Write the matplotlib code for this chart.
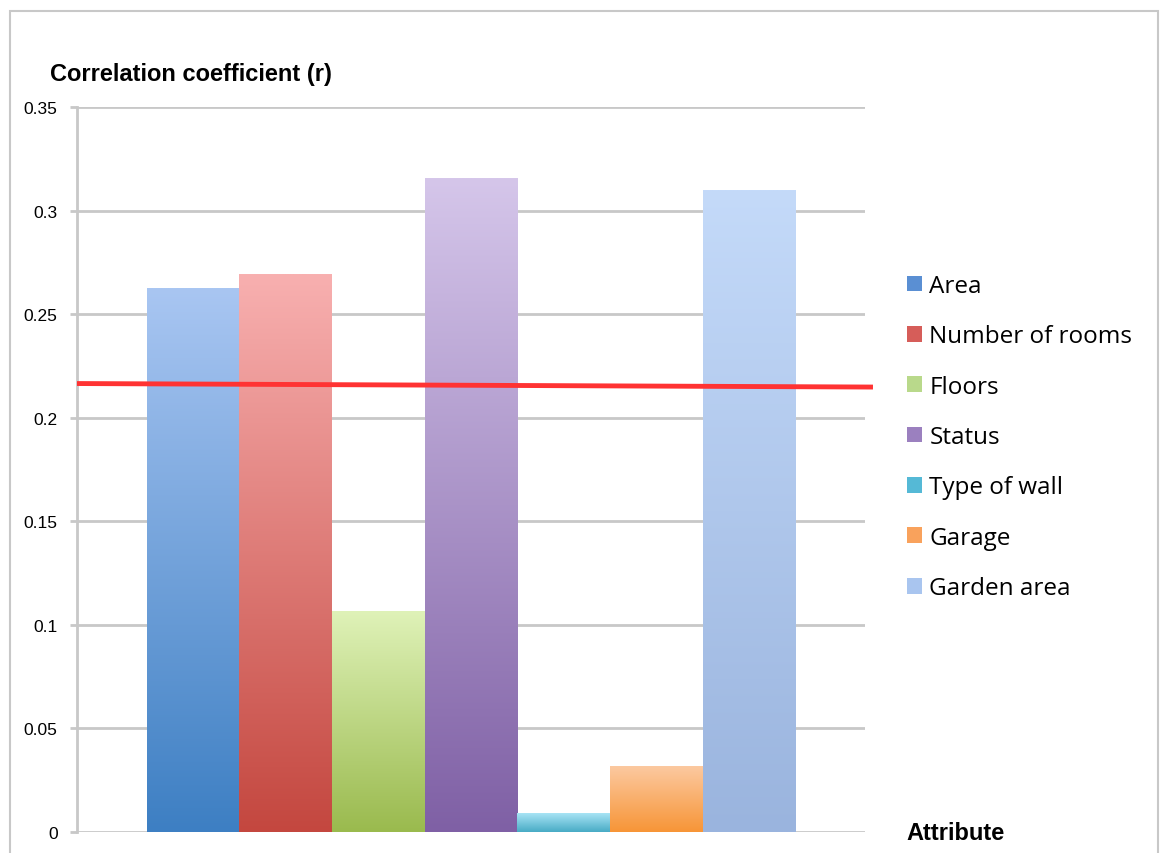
import numpy as np
import matplotlib
matplotlib.use("Agg")
import matplotlib.pyplot as plt
from matplotlib.colors import LinearSegmentedColormap
from matplotlib.patches import Rectangle, Patch

# ---- data ----
attributes = ["Area", "Number of rooms", "Floors", "Status", "Type of wall", "Garage", "Garden area"]
correlation = [0.2625, 0.2692, 0.1064, 0.3155, 0.0087, 0.0317, 0.3096]
threshold_line = [0.2165, 0.2148]   # red reference line (left end, right end)
y_ticks = [0, 0.05, 0.1, 0.15, 0.2, 0.25, 0.3, 0.35]
y_tick_labels = ["0", "0.05", "0.1", "0.15", "0.2", "0.25", "0.3", "0.35"]

# ---- styles ----
top_colors = ["#a9c6f2", "#f8b0b0", "#dff2b8", "#d5c6ea", "#a8e4f5", "#fcc9a0", "#c4daf9"]
bottom_colors = ["#3d7fc3", "#c4473f", "#9aba4e", "#7f60a5", "#48abc5", "#f79537", "#9ab4de"]
legend_colors = ["#5a8fd3", "#d65d59", "#b9d98b", "#9b80bf", "#55b9d6", "#f9a25c", "#a9c5ef"]

W, H = 1160, 854
fig = plt.figure(figsize=(W / 100, H / 100), dpi=100)
fig.patch.set_facecolor("white")

ax = fig.add_axes([77 / W, 1 - 833 / H, (865 - 77) / W, (833 - 108) / H])
ax.set_facecolor("white")

x = np.arange(len(attributes)) + 0.5
bars = ax.bar(x, correlation, width=1.0, color=legend_colors, zorder=2, linewidth=0)

# gradient fill for each bar
for rect, c_top, c_bot in zip(bars, top_colors, bottom_colors):
    rect.set_facecolor("none")
    x0 = rect.get_x()
    h = rect.get_height()
    cmap = LinearSegmentedColormap.from_list("g", [c_bot, c_top])
    grad = np.linspace(0, 1, 256).reshape(-1, 1)
    ax.imshow(grad, cmap=cmap, origin="lower", aspect="auto",
              extent=[x0, x0 + rect.get_width(), 0, h], zorder=2)

ax.set_xlim(-0.75, len(attributes) + 0.75)
ax.set_ylim(0, 0.35)

# red line (extends a little beyond the plot area)
ax.plot([-0.75, len(attributes) + 0.836], threshold_line, color="#ff3333",
        linewidth=3.5, solid_capstyle="butt", zorder=3, clip_on=False)

ax.set_yticks(y_ticks)
ax.set_yticklabels(y_tick_labels, fontfamily="Liberation Sans", fontsize=12.5)
ax.set_xticks([])
ax.tick_params(axis="y", length=5, width=2, color="#c8c8c8", pad=9)
ax.yaxis.grid(True, color="#c8c8c8", linewidth=2, zorder=0)
ax.set_axisbelow(True)
for s in ["top", "right", "bottom"]:
    ax.spines[s].set_visible(False)
ax.spines["left"].set_color("#c8c8c8")
ax.spines["left"].set_linewidth(2)

# titles
fig.text(50 / W, 1 - 74 / H, "Correlation coefficient (r)", fontfamily="Liberation Sans",
         fontweight="bold", fontsize=17, ha="left", va="center")
fig.text(906 / W, 1 - 834 / H, "Attribute", fontfamily="Liberation Sans",
         fontweight="bold", fontsize=17, ha="left", va="center")

# legend
handles = [Patch(facecolor=c, edgecolor="none") for c in legend_colors]
leg = fig.legend(handles, attributes, loc="upper left",
                 bbox_to_anchor=(907 / W, 1 - 275 / H),
                 frameon=False, prop={"family": "Open Sans", "size": 17.5},
                 handlelength=0.62, handleheight=0.62, handletextpad=0.3,
                 labelspacing=1.085, borderpad=0, borderaxespad=0)

# outer frame
fig.add_artist(Rectangle((10 / W, -0.05), (1158 - 10) / W, 1.05 - 12 / H,
                         transform=fig.transFigure, fill=False,
                         edgecolor="#c8c8c8", linewidth=1.5))

fig.savefig("out.png", dpi=100)
